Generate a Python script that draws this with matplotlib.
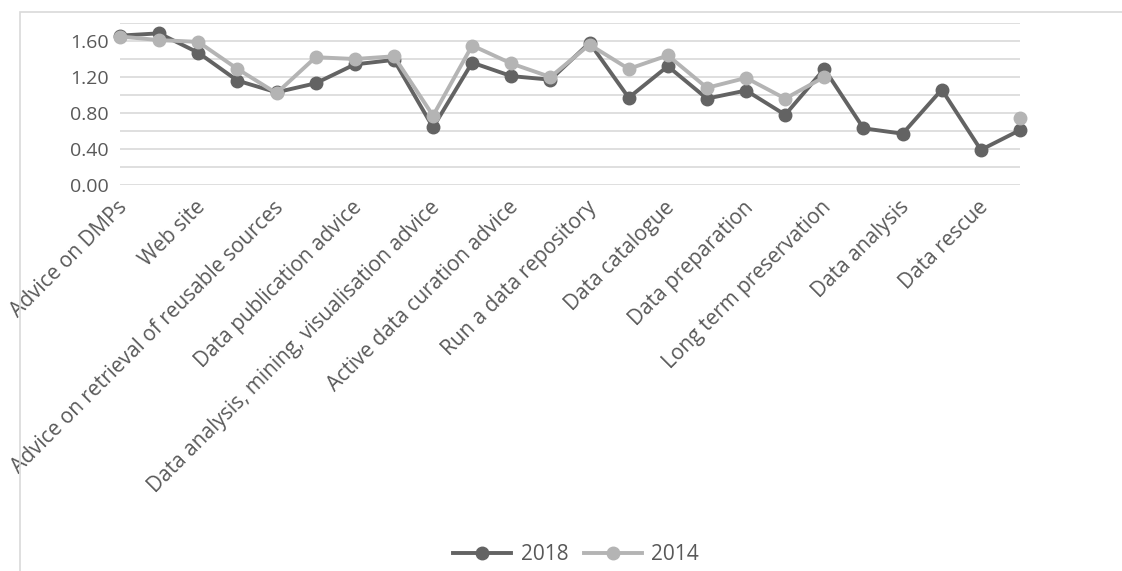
import matplotlib
matplotlib.use("Agg")
import matplotlib.pyplot as plt
import matplotlib.transforms as mtransforms
from matplotlib.patches import Rectangle
import numpy as np

# category labels shown on the axis (Excel shows every second category)
labels = ["Advice on DMPs", "Web site", "Advice on retrieval of reusable sources",
          "Data publication advice", "Data analysis, mining, visualisation advice",
          "Active data curation advice", "Run a data repository", "Data catalogue",
          "Data preparation", "Long term preservation", "Data analysis", "Data rescue"]

# values, 24 categories
v2018 = [1.66, 1.685, 1.47, 1.16, 1.03, 1.13, 1.34, 1.39, 0.64, 1.36, 1.21, 1.17,
         1.58, 0.97, 1.32, 0.96, 1.05, 0.78, 1.29, 0.63, 0.57, 1.06, 0.39, 0.61]
v2014 = [1.65, 1.61, 1.59, 1.29, 1.02, 1.42, 1.40, 1.43, 0.77, 1.55, 1.35, 1.20,
         1.56, 1.29, 1.44, 1.08, 1.19, 0.96, 1.20, None, None, None, None, 0.75]

plt.rcParams['font.family'] = ['Open Sans', 'DejaVu Sans']
text_col = '#595959'

fig = plt.figure(figsize=(11.22, 5.71), dpi=100)
W, H = 1122, 571

# chart border
fig.patches.append(Rectangle((20 / W, -0.1), 1.2, 1 - 12 / H + 0.1,
                             transform=fig.transFigure, fill=False,
                             edgecolor='#D9D9D9', linewidth=1.2))

ax = fig.add_axes([120 / W, (H - 185) / H, 900 / W, (185 - 23) / H])

x = np.arange(len(v2018))
y14 = np.array([np.nan if v is None else v for v in v2014], dtype=float)

ax.plot(x, v2018, color='#636363', linewidth=2.8, marker='o', markersize=9,
        label='2018', clip_on=False, zorder=3)
ax.plot(x, y14, color='#B4B4B4', linewidth=2.8, marker='o', markersize=9,
        label='2014', clip_on=False, zorder=4)

ax.set_xlim(0, len(v2018) - 1)
ax.set_ylim(0, 1.8)
ax.set_yticks(np.arange(0, 1.81, 0.4))
ax.set_yticks(np.arange(0, 1.81, 0.2), minor=True)
ax.set_yticklabels([f"{v:.2f}" for v in np.arange(0, 1.81, 0.4)])
ax.grid(axis='y', which='both', color='#D9D9D9', linewidth=1.2)
ax.set_axisbelow(True)

ax.set_xticks(x[::2])
ax.set_xticklabels(labels, rotation=45, ha='right', va='center',
                   rotation_mode='anchor', fontsize=15)

ax.tick_params(axis='both', which='both', length=0, colors=text_col)
ax.tick_params(axis='y', pad=8, labelsize=14)
ax.tick_params(axis='x', pad=14)
for s in ax.spines.values():
    s.set_visible(False)

# nudge the slanted labels a few pixels right, like Excel places them
shift = mtransforms.ScaledTranslation(4 / 100, 0, fig.dpi_scale_trans)
for lab in ax.get_xticklabels():
    lab.set_transform(lab.get_transform() + shift)

# Excel centres the legend on the whole chart area, which runs past the right edge
leg = fig.legend(loc='center', bbox_to_anchor=(576 / W, (H - 555) / H), ncol=2,
                 frameon=False, fontsize=15, handlelength=2.8, columnspacing=0.75,
                 handletextpad=0.45)
for t in leg.get_texts():
    t.set_color(text_col)

fig.savefig('out.png', dpi=100)
